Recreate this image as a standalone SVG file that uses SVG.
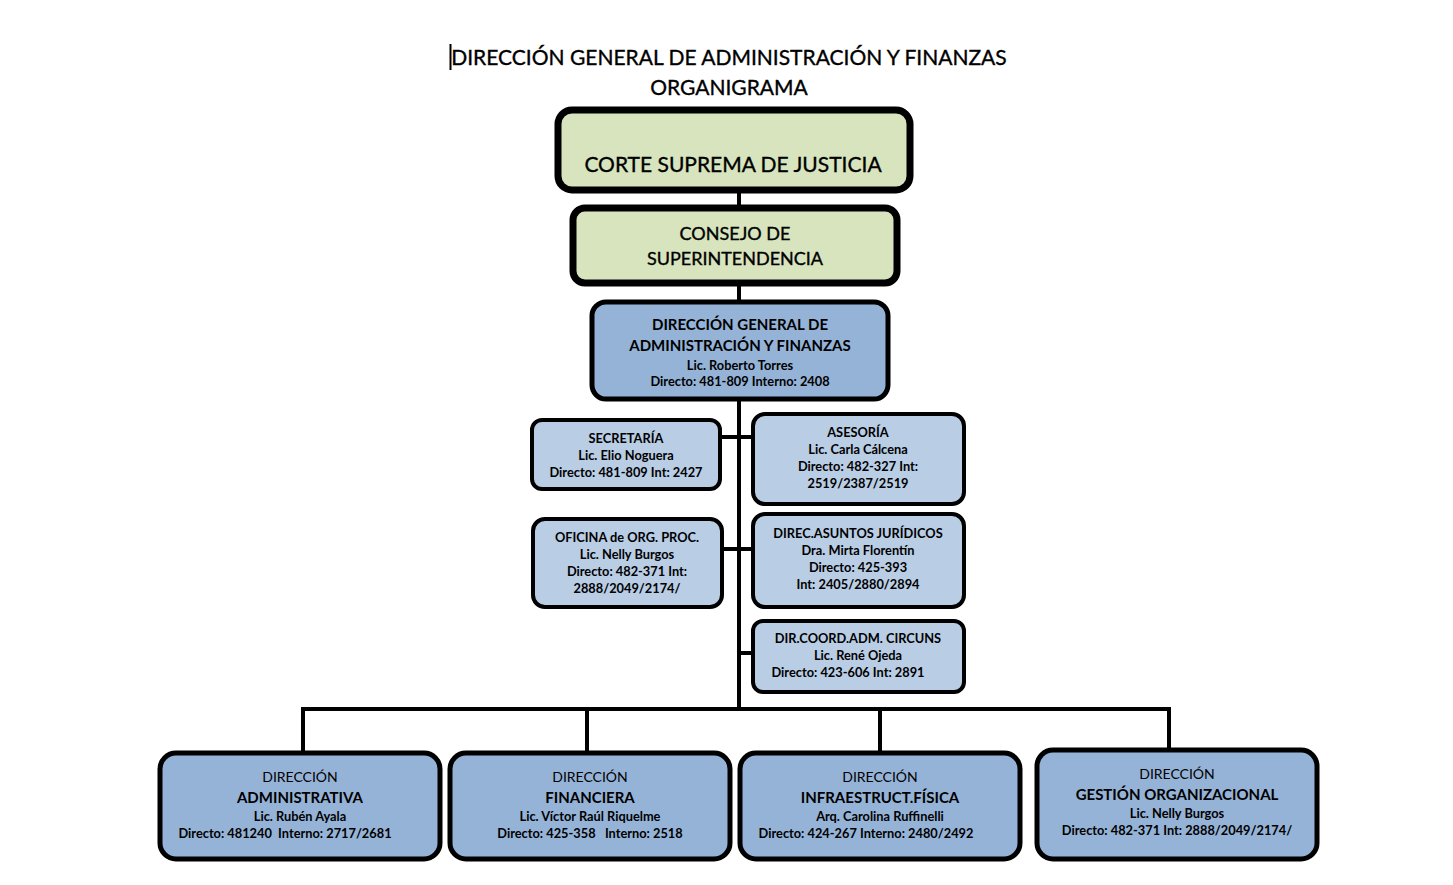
<svg xmlns="http://www.w3.org/2000/svg" width="1453" height="885" viewBox="0 0 1453 885">
<style>
text{font-family:Lato,"Open Sans","Liberation Sans",sans-serif;fill:#000;text-anchor:middle}
.b{font-weight:bold}
.reg{stroke:#000;stroke-width:0.35}
.green{fill:#d7e4bd;stroke:#000;stroke-width:7}
.mid{fill:#95b3d7;stroke:#000;stroke-width:5}
.light{fill:#b9cde5;stroke:#000;stroke-width:4}
.conn{stroke:#000;stroke-width:4;fill:none}
.t{font-size:21px}
.s{font-size:12.8px;font-weight:bold}
</style>
<rect width="1453" height="885" fill="#fff"/>
<g id="title">
<line x1="450.5" y1="44" x2="450.5" y2="70" stroke="#000" stroke-width="2"/>
<text x="729" y="65" class="t reg">DIRECCIÓN GENERAL DE ADMINISTRACIÓN Y FINANZAS</text>
<text x="729" y="95" class="t reg">ORGANIGRAMA</text>
</g>
<g id="connectors">
<line class="conn" x1="739" y1="190" x2="739" y2="208"/>
<line class="conn" x1="739" y1="283" x2="739" y2="302"/>
<line class="conn" x1="739" y1="399" x2="739" y2="709"/>
<line class="conn" x1="720" y1="437" x2="753" y2="437"/>
<line class="conn" x1="722" y1="549" x2="753" y2="549"/>
<line class="conn" x1="739" y1="653" x2="753" y2="653"/>
<polyline class="conn" points="303,752 303,709 1169,709 1169,750"/>
<line class="conn" x1="587" y1="709" x2="587" y2="753"/>
<line class="conn" x1="880" y1="709" x2="880" y2="753"/>
</g>
<g id="corte">
<rect class="green" x="558" y="110" width="352" height="80" rx="14"/>
<text x="733" y="172" font-size="21" class="reg">CORTE SUPREMA DE JUSTICIA</text>
</g>
<g id="consejo">
<rect class="green" x="573" y="208" width="324" height="75" rx="12"/>
<text x="735" y="240" font-size="18" class="reg">CONSEJO DE</text>
<text x="735" y="265" font-size="18" class="reg">SUPERINTENDENCIA</text>
</g>
<g id="dg">
<rect class="mid" x="592" y="302" width="296" height="97" rx="14"/>
<text x="740" y="330" font-size="15" class="b">DIRECCIÓN GENERAL DE</text>
<text x="740" y="351" font-size="15" class="b">ADMINISTRACIÓN Y FINANZAS</text>
<text x="740" y="370" class="s">Lic. Roberto Torres</text>
<text x="740" y="386" class="s">Directo: 481-809 Interno: 2408</text>
</g>
<g id="secretaria">
<rect class="light" x="532" y="420" width="188" height="69" rx="10"/>
<text x="626" y="443" class="s">SECRETARÍA</text>
<text x="626" y="460" class="s">Lic. Elio Noguera</text>
<text x="626" y="477" class="s">Directo: 481-809 Int: 2427</text>
</g>
<g id="asesoria">
<rect class="light" x="753" y="414" width="211" height="90" rx="12"/>
<text x="858" y="437" class="s">ASESORÍA</text>
<text x="858" y="454" class="s">Lic. Carla Cálcena</text>
<text x="858" y="471" class="s">Directo: 482-327 Int:</text>
<text x="858" y="488" class="s">2519/2387/2519</text>
</g>
<g id="oficina">
<rect class="light" x="533" y="519" width="189" height="88" rx="12"/>
<text x="627" y="542" class="s">OFICINA de ORG. PROC.</text>
<text x="627" y="559" class="s">Lic. Nelly Burgos</text>
<text x="627" y="576" class="s">Directo: 482-371 Int:</text>
<text x="627" y="593" class="s">2888/2049/2174/</text>
</g>
<g id="juridicos">
<rect class="light" x="753" y="514" width="211" height="93" rx="12"/>
<text x="858" y="538" class="s">DIREC.ASUNTOS JURÍDICOS</text>
<text x="858" y="555" class="s">Dra. Mirta Florentín</text>
<text x="858" y="572" class="s">Directo: 425-393</text>
<text x="858" y="589" class="s">Int: 2405/2880/2894</text>
</g>
<g id="circuns">
<rect class="light" x="753" y="621" width="211" height="71" rx="10"/>
<text x="858" y="643" class="s">DIR.COORD.ADM. CIRCUNS</text>
<text x="858" y="660" class="s">Lic. René Ojeda</text>
<text x="848" y="677" class="s">Directo: 423-606 Int: 2891</text>
</g>
<g id="administrativa">
<rect class="mid" x="160" y="753" width="280" height="106" rx="16"/>
<text x="300" y="782" font-size="14">DIRECCIÓN</text>
<text x="300" y="803" font-size="15" class="b">ADMINISTRATIVA</text>
<text x="300" y="821" class="s">Lic. Rubén Ayala</text>
<text x="285" y="838" class="s" xml:space="preserve">Directo: 481240  Interno: 2717/2681</text>
</g>
<g id="financiera">
<rect class="mid" x="450" y="753" width="280" height="106" rx="16"/>
<text x="590" y="782" font-size="14">DIRECCIÓN</text>
<text x="590" y="803" font-size="15" class="b">FINANCIERA</text>
<text x="590" y="821" class="s">Lic. Víctor Raúl Riquelme</text>
<text x="590" y="838" class="s" xml:space="preserve">Directo: 425-358   Interno: 2518</text>
</g>
<g id="infraestructura">
<rect class="mid" x="740" y="753" width="280" height="106" rx="16"/>
<text x="880" y="782" font-size="14">DIRECCIÓN</text>
<text x="880" y="803" font-size="15" class="b">INFRAESTRUCT.FÍSICA</text>
<text x="880" y="821" class="s">Arq. Carolina Ruffinelli</text>
<text x="866" y="838" class="s">Directo: 424-267 Interno: 2480/2492</text>
</g>
<g id="gestion">
<rect class="mid" x="1037" y="750" width="280" height="109" rx="16"/>
<text x="1177" y="779" font-size="14">DIRECCIÓN</text>
<text x="1177" y="800" font-size="15" class="b">GESTIÓN ORGANIZACIONAL</text>
<text x="1177" y="818" class="s">Lic. Nelly Burgos</text>
<text x="1177" y="835" class="s">Directo: 482-371 Int: 2888/2049/2174/</text>
</g>
</svg>
